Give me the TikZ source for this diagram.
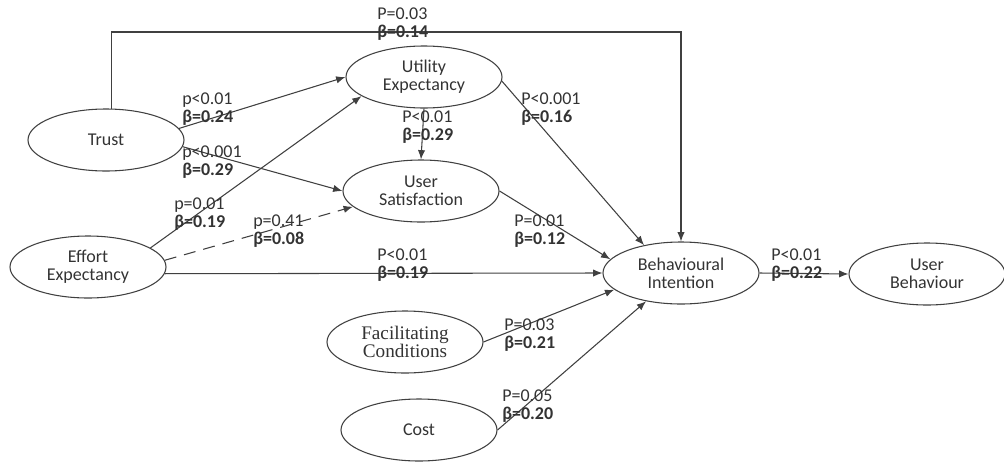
\documentclass[tikz,border=0pt]{standalone}
\usepackage{fontspec}
\setmainfont{Carlito}
\newfontfamily\timesfont{Liberation Serif}
\usepackage{tikz}
\usetikzlibrary{shapes,arrows.meta,positioning}
\newcommand{\pb}[2]{#1\\\textbf{β=#2}}

\begin{document}
\begin{tikzpicture}[
			x=0.75pt, y=-0.75pt,
			construct/.style={ellipse, draw=black!75, line width=0.8pt, minimum width=117pt, minimum height=46.5pt, inner sep=0pt, align=center, text=black!80, font=\fontsize{13.5}{13.5}\selectfont},
			coef/.style={anchor=west, align=left, inner sep=0pt, text=black!80, font=\fontsize{13.5}{13.5}\selectfont},
			arrow/.style={-{Latex[length=7pt,width=5.5pt]}, line width=0.8pt, draw=black!75}
			]
			\useasboundingbox (0,0) rectangle (1004,461);
			
			% Constructs
			\node[construct] (trust) at (106,140) {Trust};
			\node[construct] (ee) at (88,267) {Effort\\Expectancy};
			\node[construct] (ue) at (424,77) {Utility\\Expectancy};
			\node[construct] (us) at (421,191) {User\\Satisfaction};
			\node[construct] (bi) at (681,273) {Behavioural\\Intention};
			\node[construct] (ub) at (927,274) {User\\Behaviour};
			\node[construct, font=\timesfont\fontsize{14.4}{13}\selectfont] (fc) at (405,342) {Facilitating\\Conditions};
			\node[construct] (cost) at (419,430) {Cost};
			
			% Paths
			\coordinate (top) at (400,32);
			\draw[arrow] (trust.80) |- (top) -| (bi.north);
			\draw[arrow] (trust.9) -- (ue.west);
			\draw[arrow] (trust.-5) -- (us.west);
			\draw[arrow] (ee.17) -- (ue.197);
			\draw[arrow, dashed, dash pattern=on 9pt off 6pt] (ee.5) -- (us.193);
			\draw[arrow] (ee.-5) -- (bi.west);
			\draw[arrow] (ue.south) -- (us.north);
			\draw[arrow] (ue.-3) -- (bi.143);
			\draw[arrow] (us.east) -- (bi.169);
			\draw[arrow] (fc.east) -- (bi.194);
			\draw[arrow] (cost.east) -- (bi.219);
			\draw[arrow] (bi.east) -- (ub.west);
			
			% Path coefficients
			\node[coef] (l-tbi) at (377,24) {\pb{P=0.03}{0.14}};
			\node[coef] (l-tue) at (182,109) {\pb{p<0.01}{0.24}};
			\node[coef] (l-tus) at (182,162) {\pb{p<0.001}{0.29}};
			\node[coef] (l-eue) at (174,214) {\pb{p=0.01}{0.19}};
			\node[coef] (l-eus) at (253,231) {\pb{p=0.41}{0.08}};
			\node[coef] (l-uus) at (402,127) {\pb{P<0.01}{0.29}};
			\node[coef] (l-ubi) at (521,109) {\pb{P<0.001}{0.16}};
			\node[coef] (l-sbi) at (514,231) {\pb{P=0.01}{0.12}};
			\node[coef] (l-ebi) at (377,265) {\pb{P<0.01}{0.19}};
			\node[coef] (l-fbi) at (504,335) {\pb{P=0.03}{0.21}};
			\node[coef] (l-cbi) at (502,406) {\pb{P=0.05}{0.20}};
			\node[coef] (l-bub) at (771,265) {\pb{P<0.01}{0.22}};
			
		\end{tikzpicture}
\end{document}
